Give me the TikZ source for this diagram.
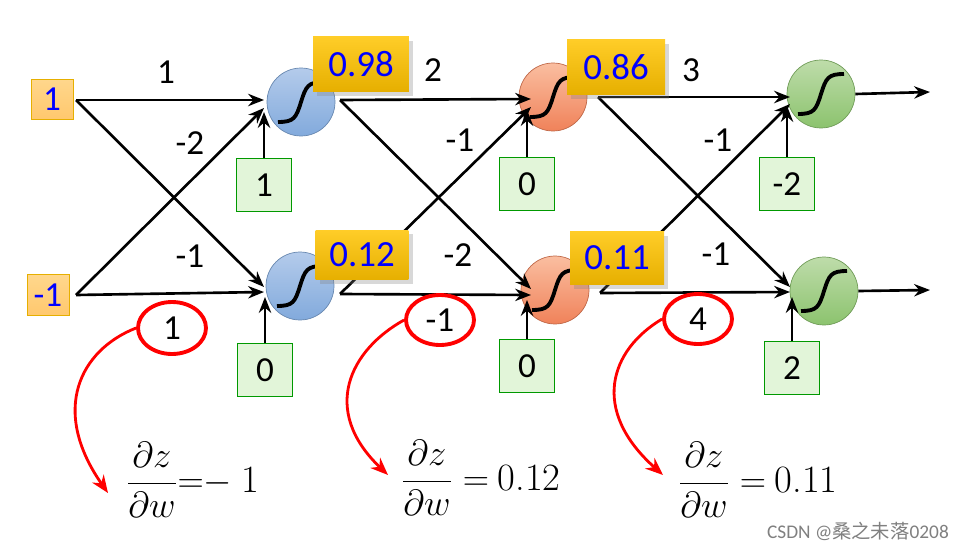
\documentclass[tikz,border=0pt]{standalone}
\usepackage{fontspec}
\setmainfont{Carlito}
\newfontfamily\cjk{Noto Sans CJK SC}
\newfontfamily\lmr{Latin Modern Roman}
\usetikzlibrary{arrows.meta,shadows,shapes.geometric}
\definecolor{gold1}{RGB}{255,205,40}
\definecolor{gold2}{RGB}{230,175,0}
\definecolor{bl1}{RGB}{180,203,235}
\definecolor{bl2}{RGB}{130,170,220}
\definecolor{or1}{RGB}{250,190,160}
\definecolor{or2}{RGB}{240,130,90}
\definecolor{gr1}{RGB}{190,220,170}
\definecolor{gr2}{RGB}{140,195,110}
\definecolor{in1}{RGB}{255,215,140}
\definecolor{in2}{RGB}{255,200,110}
\begin{document}
\begin{tikzpicture}[x=0.02cm,y=-0.02cm,
 inbox/.style={draw=gold2,top color=in1,bottom color=in2,text=blue,font=\fontsize{20}{20}\selectfont,inner sep=0pt},
 outbox/.style={top color=gold1,bottom color=gold2,text=blue,font=\fontsize{21}{21}\selectfont,inner sep=0pt,drop shadow={opacity=0.3}},
 bias/.style={draw=green!60!black,fill=green!50!olive!15,font=\fontsize{20}{20}\selectfont,inner sep=0pt,minimum width=1.1cm,minimum height=1.06cm},
 neu/.style={circle,minimum size=1.36cm,inner sep=0pt},
 blueN/.style={neu,draw=bl2!80!black,top color=bl1,bottom color=bl2},
 orN/.style={neu,draw=or2!80!black,top color=or1,bottom color=or2},
 grN/.style={neu,draw=gr2!80!black,top color=gr1,bottom color=gr2},
 arr/.style={-{Stealth[length=9pt,width=7pt]},line width=1.5pt},
 lab/.style={font=\fontsize{20}{20}\selectfont},
 red/.style={draw=red,line width=2.2pt,ellipse},
 rarr/.style={draw=red,line width=1.6pt,-{Stealth[length=10pt,width=8pt]}}]
\useasboundingbox (0,0) rectangle (963,551);
\fill[white] (0,0) rectangle (963,551);
% neurons
\node[blueN] (a1) at (301,102) {};
\node[blueN] (a2) at (300,286) {};
\node[orN] (b1) at (553,97) {};
\node[orN] (b2) at (555,290) {};
\node[grN] (c1) at (821,94) {};
\node[grN] (c2) at (824,291) {};
\foreach \n in {a1,a2,b1,b2,c1,c2}{
 \draw[line width=2.2pt] (\n.center) +(-23,20) .. controls +(16,0) and +(-5,16) .. +(0,0) .. controls +(5,-16) and +(-16,0) .. +(23,-20);}
% inputs
\node[inbox,minimum width=0.84cm,minimum height=0.8cm] (x1) at (52,99) {1};
\node[inbox,minimum width=0.84cm,minimum height=0.82cm] (x2) at (48,295) {-1};
\coordinate (x1o) at (76,100); \coordinate (x2o) at (76,295);
% weights layer 1
\coordinate (a1i) at (264,100); \coordinate (a2i) at (264,292);
\coordinate (a1ix) at (264,108); \coordinate (a2ix) at (264,287);
\draw[arr] (x1o) -- (a1i); \draw[arr] (x1o) -- (a2ix);
\draw[arr] (x2o) -- (a1ix); \draw[arr] (x2o) -- (a2i);
\node[lab] (w1) at (166,72) {1};
\node[lab] (w2) at (190,143) {-2};
\node[lab] (w3) at (190,256) {-1};
% layer 2
\coordinate (a1o) at (340,100); \coordinate (a2o) at (340,294);
\coordinate (b1i) at (531,99); \coordinate (b2i) at (531,295);
\coordinate (b1ix) at (531,107); \coordinate (b2ix) at (531,289);
\draw[arr] (a1o) -- (b1i); \draw[arr] (a1o) -- (b2ix);
\draw[arr] (a2o) -- (b1ix); \draw[arr] (a2o) -- (b2i);
\node[lab] (w4) at (433,70) {2};
\node[lab] (w5) at (460,140) {-1};
\node[lab] (w6) at (458,255) {-2};
% layer 3
\coordinate (b1o) at (598,97); \coordinate (b2o) at (600,293);
\coordinate (c1i) at (790,97); \coordinate (c2i) at (790,292);
\coordinate (c1ix) at (790,104); \coordinate (c2ix) at (790,287);
\draw[arr] (b1o) -- (c1i); \draw[arr] (b1o) -- (c2ix);
\draw[arr] (b2o) -- (c1ix); \draw[arr] (b2o) -- (c2i);
\node[lab] (w7) at (691,70) {3};
\node[lab] (w8) at (718,140) {-1};
\node[lab] (w9) at (716,254) {-1};
% outputs
\coordinate (o1) at (930,92); \coordinate (o2) at (930,290);
\draw[arr] (c1.east) -- (o1); \draw[arr] (c2.east) -- (o2);
% output value boxes
\node[outbox,minimum width=1.92cm,minimum height=1.1cm] (v1) at (361,64) {0.98};
\node[outbox,minimum width=1.86cm,minimum height=1.0cm] (v2) at (362,255) {0.12};
\node[outbox,minimum width=1.96cm,minimum height=1.1cm] (v3) at (616,67) {0.86};
\node[outbox,minimum width=1.88cm,minimum height=1.06cm] (v4) at (617,258) {0.11};
% biases
\node[bias] (e1) at (264,185) {1};
\node[bias] (e2) at (265,370) {0};
\node[bias] (e3) at (527,184) {0};
\node[bias] (e4) at (527,366) {0};
\node[bias] (e5) at (787,184) {-2};
\node[bias] (e6) at (792,368) {2};
\draw[arr] (e1.north) -- (264,112);
\draw[arr] (e2.north) -- (265,297);
\draw[arr] (e3.north) -- (527,110);
\draw[arr] (e4.north) -- (527,300);
\draw[arr] (e5.north) -- (787,106);
\draw[arr] (e6.north) -- (792,297);
% red ellipses
\node[red,minimum width=1.36cm,minimum height=1.04cm,font=\fontsize{20}{20}\selectfont] (r1) at (172,328) {1};
\node[red,minimum width=1.36cm,minimum height=1.0cm,font=\fontsize{20}{20}\selectfont] (r2) at (440,320) {-1};
\node[red,minimum width=1.36cm,minimum height=1.0cm,font=\fontsize{20}{20}\selectfont] (r3) at (698,319) {4};
% formulas
\node[font=\fontsize{22}{22}\selectfont,anchor=west] (f1) at (120,480) {$\displaystyle\frac{\partial z}{\partial w}{=}{-}$\ {\lmr 1}};
\node[font=\fontsize{22}{22}\selectfont,anchor=west] (f2) at (395,478) {$\displaystyle\frac{\partial z}{\partial w} =$ {\lmr 0.12}};
\node[font=\fontsize{22}{22}\selectfont,anchor=west] (f3) at (672,480) {$\displaystyle\frac{\partial z}{\partial w} =$ {\lmr 0.11}};
\coordinate (t1) at (108,493); \coordinate (t2) at (388,475); \coordinate (t3) at (663,475);
\draw[rarr] (r1.west) .. controls (80,350) and (50,410) .. (t1);
\draw[rarr] (r2.west) .. controls (350,350) and (320,410) .. (t2);
\draw[rarr] (r3.west) .. controls (610,350) and (590,410) .. (t3);
\node[text=gray,font=\fontsize{11}{11}\selectfont,anchor=east] (wm) at (955,531) {CSDN @{\cjk 桑之未落}0208};
\end{tikzpicture}
\end{document}
